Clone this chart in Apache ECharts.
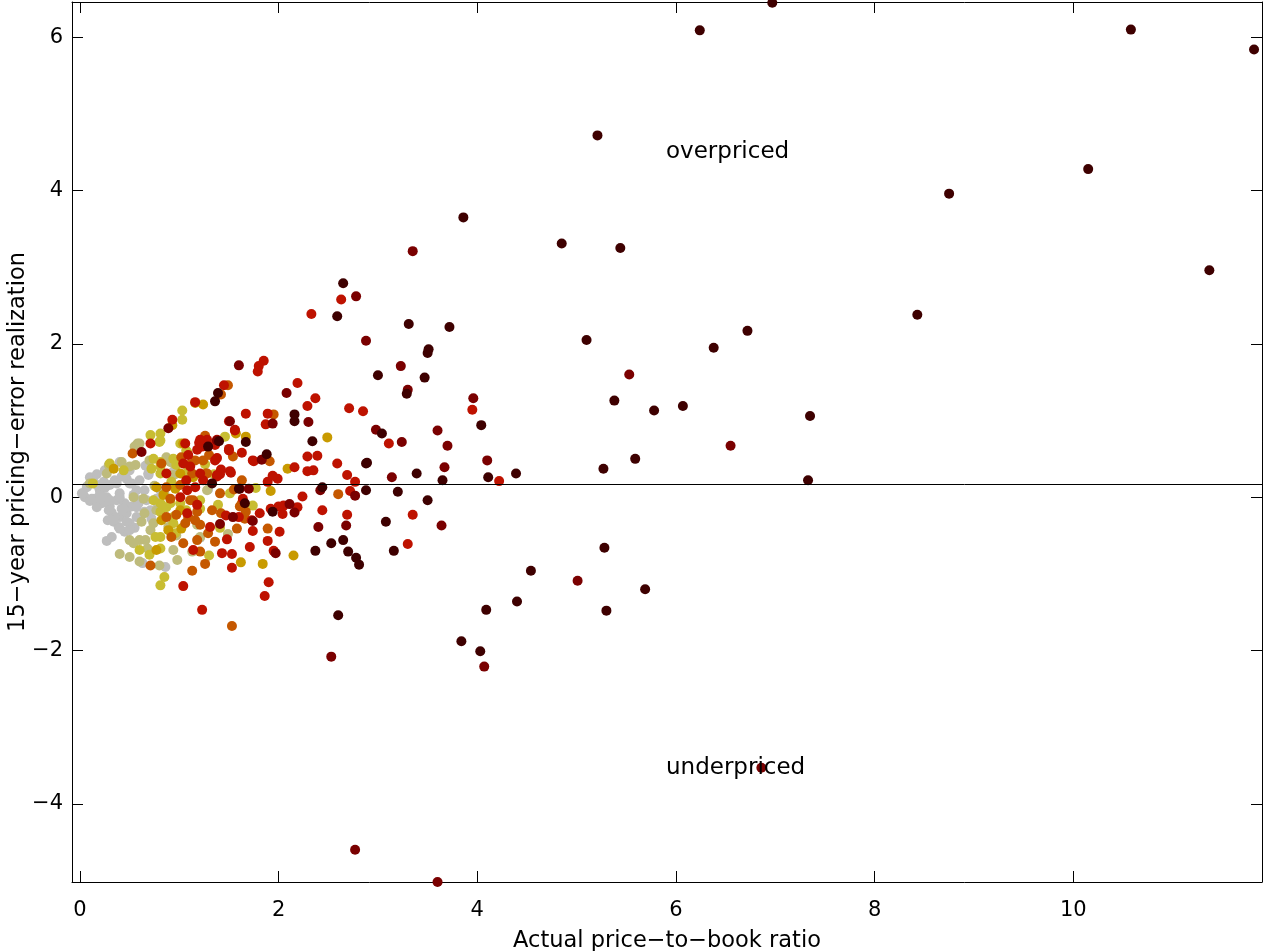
<!DOCTYPE html>
<html>
<head>
<meta charset="utf-8">
<script src="https://cdn.jsdelivr.net/npm/echarts@6/dist/echarts.min.js"></script>
<style>
html,body{margin:0;padding:0;background:#fff;}
#chart{width:1263px;height:951px;}
</style>
</head>
<body>
<div id="chart"></div>
<script>
// ---- data: [actual price-to-book ratio, 15-year pricing-error realization] ----
const xTicks = [0, 2, 4, 6, 8, 10];
const yTicks = [-4, -2, 0, 2, 4, 6];
const xTitle = 'Actual price\u2212to\u2212book ratio';
const yTitle = '15\u2212year pricing\u2212error realization';
const refLevel = 0.17;
const annotations = [['overpriced', 5.9, 4.5], ['underpriced', 5.9, -3.53]];

const grayPts = [[0.02,0.05],[0.07,0.13],[0.13,0.22],[0.15,-0.02],[0.20,0.09],[0.27,0.00],[0.30,0.16],[0.35,0.22],[0.37,-0.04],[0.42,0.27],[0.47,0.24],[0.52,0.18],[0.57,0.09],[0.60,-0.04],[0.65,0.09],[0.69,0.29],[0.34,-0.32],[0.40,-0.26],[0.47,-0.21],[0.50,-0.34],[0.45,-0.45],[0.39,-0.39],[0.35,-0.26],[0.45,-0.08],[0.59,-0.08],[0.65,-0.19],[0.60,0.22],[0.50,0.35],[0.77,-0.06],[0.81,0.09],[0.27,0.35],[0.40,0.46],[0.66,0.41],[1.29,0.10],[1.21,-0.53],[0.86,-0.91],[0.63,-0.86],[0.27,-0.57],[0.96,0.30],[0.10,0.26],[0.17,0.30],[0.22,-0.08],[0.30,-0.12],[0.57,-0.26],[0.05,0.00],[0.10,-0.05],[0.25,0.12],[0.32,-0.20],[0.42,-0.15],[0.55,-0.40],[0.40,0.05],[0.72,-0.28],[0.28,-0.30],[0.18,0.15],[0.52,-0.12],[0.25,0.35],[0.69,0.31],[0.07,0.14],[0.15,0.18],[0.24,0.20],[0.37,0.18],[0.50,0.18],[0.03,0.05],[0.12,-0.02],[0.20,0.03],[0.30,-0.04],[0.40,0.00],[0.54,0.03],[0.67,-0.04],[0.77,-0.02],[0.17,-0.13],[0.29,-0.17],[0.44,-0.15],[0.57,-0.13],[0.71,-0.17],[0.34,-0.30],[0.47,-0.32],[0.40,-0.41],[0.50,-0.43],[0.32,-0.52],[0.69,0.31],[0.94,0.33]];
const olivePts = [[0.58,0.70],[0.55,0.66],[0.29,0.42],[0.56,0.42],[0.70,0.48],[0.87,0.52],[0.94,0.44],[1.18,-0.36],[0.94,-0.69],[0.98,-0.82],[0.80,-0.89],[1.13,-0.71],[0.50,-0.78],[0.40,-0.74],[0.50,-0.56],[0.60,-0.56],[0.68,-0.67],[0.71,-0.43],[0.62,-0.32],[0.65,-0.21],[0.74,-0.34],[0.89,-0.39],[0.64,-0.02],[0.54,0.00],[1.28,0.09],[1.49,-0.48],[1.21,-0.52],[0.42,0.46],[0.27,0.31],[0.10,0.18],[0.60,-0.84],[0.75,0.15],[0.85,0.05],[0.50,0.40],[0.91,0.46],[0.94,0.29],[0.77,-0.17],[0.97,-0.50],[0.66,-0.56],[0.54,-0.60],[0.60,0.70]];
const yellowPts = [[1.03,1.13],[1.03,1.01],[0.71,0.81],[0.81,0.83],[0.80,0.72],[1.07,0.61],[0.81,0.40],[0.99,0.48],[1.01,-0.08],[1.07,-0.17],[0.96,-0.47],[0.85,-1.04],[0.81,-1.15],[0.81,-0.52],[0.81,-0.67],[0.81,-0.19],[0.94,-0.34],[0.81,-0.08],[0.87,-0.13],[0.74,-0.04],[1.46,0.79],[1.26,0.43],[1.51,0.05],[1.77,0.12],[1.74,-0.11],[1.21,-0.04],[1.21,-0.15],[1.39,-0.10],[1.41,-0.40],[1.30,-0.76],[0.30,0.44],[0.13,0.18],[0.92,0.20],[1.10,0.30],[1.35,0.30],[0.70,-0.75],[1.01,0.70],[1.08,0.59],[0.44,0.35],[0.72,0.37],[0.97,0.42],[0.81,0.31],[0.91,-0.08],[0.94,-0.26],[0.76,-0.52],[0.60,-0.69],[0.81,0.74],[0.94,0.50],[0.81,0.46],[0.74,0.50],[1.09,0.35]];
const goldPts = [[1.24,1.21],[1.67,0.79],[1.57,0.83],[1.92,0.08],[2.09,0.37],[2.49,0.78],[2.15,-0.76],[1.84,-0.87],[0.93,0.94],[1.16,1.23],[1.04,0.70],[1.14,0.26],[1.02,-0.41],[1.62,-0.85],[0.34,0.37],[1.01,0.31],[0.77,0.13],[0.96,0.11],[0.84,0.03],[0.82,-0.30],[1.01,-0.17],[0.89,-0.43],[0.77,-0.69]];
const orangePts = [[1.26,0.80],[1.29,0.68],[1.30,0.55],[1.24,0.48],[1.27,0.31],[1.41,0.05],[1.55,0.10],[1.61,-0.12],[1.33,-0.17],[1.42,-0.21],[1.66,-0.28],[1.21,-0.36],[1.58,-0.41],[1.29,-0.47],[1.36,-0.58],[1.21,-0.71],[1.26,-0.87],[1.89,-0.41],[1.49,1.46],[1.42,1.34],[1.54,0.53],[1.95,1.08],[1.91,0.47],[2.60,0.04],[0.53,0.57],[1.16,0.48],[1.14,-0.04],[1.18,-0.19],[1.09,-0.26],[0.92,-0.52],[0.87,-0.26],[0.97,-0.23],[0.91,-0.02],[1.13,-0.96],[0.71,-0.89],[1.63,0.22],[1.63,-0.08],[1.67,-0.19],[1.53,-1.68],[0.82,0.44],[1.13,0.31],[0.87,0.13],[1.01,0.16],[1.06,-0.34],[1.18,-0.56],[1.04,-0.60],[1.11,-0.04],[1.16,-0.30],[1.29,0.67],[1.11,0.43],[1.02,0.52],[1.28,0.31]];
const redPts = [[1.28,0.75],[1.38,0.75],[1.23,0.66],[1.36,0.68],[1.36,0.48],[1.24,0.22],[1.64,-0.02],[1.81,-0.21],[1.47,-0.24],[1.60,-0.26],[1.73,-0.30],[1.31,-0.39],[1.48,-0.55],[1.43,-0.73],[1.53,-0.74],[1.53,-0.92],[1.71,-0.65],[1.74,-0.44],[2.01,-0.45],[1.23,-1.47],[2.63,2.58],[2.33,2.39],[1.85,1.78],[1.80,1.71],[1.79,1.64],[2.19,1.49],[1.45,1.46],[2.37,1.29],[3.95,1.14],[2.29,1.19],[2.71,1.16],[2.85,1.12],[1.67,1.09],[1.89,1.09],[1.87,0.95],[1.50,0.99],[1.56,0.88],[3.11,0.70],[1.63,0.58],[1.50,0.61],[1.74,0.48],[1.75,0.47],[2.29,0.53],[2.39,0.54],[2.59,0.44],[2.16,0.39],[2.29,0.34],[2.35,0.35],[2.69,0.29],[4.22,0.21],[2.77,0.20],[1.42,0.36],[1.52,0.32],[1.38,0.29],[1.89,0.20],[1.99,0.24],[1.94,0.28],[2.24,0.01],[2.72,0.08],[2.44,-0.17],[2.19,-0.13],[2.05,-0.11],[2.04,-0.22],[1.92,-0.15],[2.69,-0.23],[3.35,-0.23],[3.30,-0.61],[1.95,-0.70],[1.89,-0.57],[1.90,-1.11],[1.86,-1.29],[0.93,1.01],[0.71,0.70],[1.18,0.62],[1.09,0.55],[1.07,0.22],[1.04,-1.16],[1.21,0.75],[1.38,0.51],[1.41,0.30],[1.51,0.34],[1.21,0.31],[2.00,-0.12],[1.04,0.44],[1.11,0.40],[0.87,0.31],[1.08,0.09],[1.16,0.13],[1.01,0.00],[1.18,-0.10],[1.08,-0.21],[1.14,-0.69],[1.16,1.24],[1.06,0.70],[1.20,0.71],[1.50,0.63],[1.56,0.87],[1.38,0.27]];
const darkRedPts = [[2.78,2.62],[2.88,2.04],[1.60,1.72],[3.23,1.71],[2.08,1.36],[3.30,1.40],[3.96,1.29],[1.94,0.96],[2.30,0.98],[2.98,0.88],[3.60,0.87],[3.24,0.72],[3.70,0.67],[1.83,0.49],[4.10,0.48],[3.67,0.39],[3.14,0.26],[2.42,0.09],[2.77,0.02],[2.11,-0.09],[2.16,-0.20],[3.64,-0.37],[2.68,-0.37],[2.40,-0.39],[1.97,-0.73],[2.53,-2.08],[0.89,0.90],[1.61,0.11],[1.70,0.11],[1.38,0.74],[1.54,-0.26],[1.74,-0.31],[5.01,-1.09],[4.07,-2.21],[6.86,-3.53],[3.60,-5.02],[2.77,-4.60],[5.53,1.60],[6.55,0.67],[0.62,0.59],[1.41,-0.35],[3.35,3.21],[1.51,0.99]];
const darkPts = [[2.65,2.79],[2.59,2.36],[3.31,2.26],[3.72,2.22],[3.51,1.93],[3.50,1.88],[3.00,1.59],[3.47,1.56],[3.29,1.35],[4.04,0.94],[1.39,1.36],[1.36,1.25],[2.16,1.08],[2.16,0.99],[3.04,0.83],[1.67,0.72],[2.34,0.73],[1.88,0.56],[2.88,0.44],[2.89,0.45],[3.39,0.31],[4.11,0.26],[4.39,0.31],[3.65,0.22],[2.44,0.13],[2.88,0.09],[3.20,0.07],[3.50,-0.04],[1.94,-0.19],[3.08,-0.32],[2.65,-0.56],[2.53,-0.60],[2.37,-0.70],[2.70,-0.71],[2.78,-0.79],[2.81,-0.88],[3.16,-0.70],[2.60,-1.54],[3.84,-1.88],[4.03,-2.01],[4.09,-1.47],[4.40,-1.36],[1.33,0.18],[1.66,-0.08],[1.29,0.66],[1.60,0.11],[5.28,-0.66],[4.54,-0.96],[5.69,-1.20],[5.30,-1.48],[6.97,6.45],[6.24,6.09],[10.58,6.10],[11.82,5.84],[5.21,4.72],[10.15,4.28],[8.75,3.96],[4.85,3.31],[5.44,3.25],[11.37,2.96],[8.43,2.38],[5.10,2.05],[6.38,1.95],[6.72,2.17],[5.38,1.26],[5.78,1.13],[6.07,1.19],[7.35,1.06],[5.59,0.50],[5.27,0.37],[7.33,0.22],[3.86,3.65],[1.40,0.73]];

const groups = [
  ['gray', grayPts, '#bebebe'],
  ['olive', olivePts, '#bebb7c'],
  ['yellow', yellowPts, '#c8bd32'],
  ['gold', goldPts, '#c89a00'],
  ['orange', orangePts, '#c55800'],
  ['red', redPts, '#be1200'],
  ['darkred', darkRedPts, '#7a0000'],
  ['dark', darkPts, '#3e0000']
];

const FONT = 'DejaVu Sans';
const xMin = -0.08, xMax = 11.9, yMin = -5.02, yMax = 6.46;
const minus = v => String(v).replace('-', '\u2212');

const chart = echarts.init(document.getElementById('chart'), null, {renderer: 'canvas'});

const axisCommon = {
  axisLine: {show: true, onZero: false, lineStyle: {color: '#000', width: 1}},
  splitLine: {show: false},
  axisTick: {show: true, inside: true, length: 11, lineStyle: {color: '#000', width: 1}}
};

const series = groups.map(([name, pts, color]) => ({
  name: name,
  type: 'scatter',
  xAxisIndex: 0, yAxisIndex: 0,
  data: pts,
  symbol: 'circle',
  symbolSize: 10,
  itemStyle: {color: color, opacity: 1},
  silent: true,
  clip: true,
  z: 3
}));

series.push({
  type: 'scatter',
  name: 'ref',
  data: [],
  silent: true,
  markLine: {
    silent: true,
    symbol: ['none', 'none'],
    label: {show: false},
    lineStyle: {color: '#000', width: 1, type: 'solid', opacity: 1},
    data: [{yAxis: refLevel}]
  },
  z: 4
});

series.push({
  type: 'scatter',
  name: 'annotations',
  data: annotations.map(a => ({value: [a[1], a[2]], name: a[0]})),
  symbolSize: 0,
  silent: true,
  itemStyle: {opacity: 1, color: '#000'},
  label: {
    show: true,
    position: 'right',
    distance: 0,
    formatter: p => p.name,
    color: '#000',
    opacity: 1,
    fontFamily: FONT,
    fontSize: 23,
    verticalAlign: 'middle'
  },
  z: 5
});

chart.setOption({
  animation: false,
  backgroundColor: '#fff',
  grid: {left: 72, right: 1, top: 2, bottom: 69, containLabel: false, outerBoundsMode: 'none'},
  xAxis: [
    Object.assign({}, axisCommon, {
      type: 'value', position: 'bottom', min: xMin, max: xMax,
      name: xTitle, nameLocation: 'middle', nameGap: 48,
      nameTextStyle: {fontFamily: FONT, fontSize: 22.5, color: '#000'},
      axisTick: Object.assign({}, axisCommon.axisTick, {customValues: xTicks}),
      axisLabel: {customValues: xTicks, formatter: minus, fontFamily: FONT, fontSize: 21, color: '#000', margin: 18}
    }),
    Object.assign({}, axisCommon, {
      type: 'value', position: 'top', min: xMin, max: xMax,
      axisTick: Object.assign({}, axisCommon.axisTick, {customValues: xTicks}),
      axisLabel: {show: false}
    })
  ],
  yAxis: [
    Object.assign({}, axisCommon, {
      type: 'value', position: 'left', min: yMin, max: yMax,
      name: yTitle, nameLocation: 'middle', nameGap: 42, nameRotate: 90,
      nameMoveOverlap: false,
      nameTextStyle: {fontFamily: FONT, fontSize: 22.5, color: '#000'},
      axisTick: Object.assign({}, axisCommon.axisTick, {customValues: yTicks}),
      axisLabel: {customValues: yTicks, formatter: minus, fontFamily: FONT, fontSize: 21, color: '#000', margin: 9}
    }),
    Object.assign({}, axisCommon, {
      type: 'value', position: 'right', min: yMin, max: yMax,
      axisTick: Object.assign({}, axisCommon.axisTick, {customValues: yTicks}),
      axisLabel: {show: false}
    })
  ],
  series: series
});
</script>
</body>
</html>
